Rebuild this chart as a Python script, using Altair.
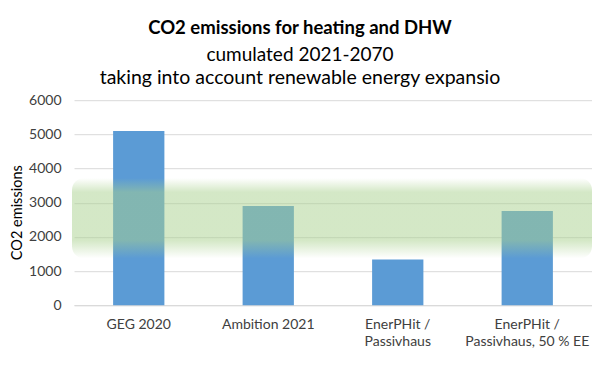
import altair as alt
import pandas as pd

# ---- data ----
categories = ["GEG 2020", "Ambition 2021", "EnerPHit /|Passivhaus", "EnerPHit /|Passivhaus, 50 % EE"]
values = [5100, 2900, 1340, 2760]
band_outer = [1370, 3720]
y_ticks = [0, 1000, 2000, 3000, 4000, 5000, 6000]
title_line = "CO2 emissions for heating and DHW"
sub_line1 = "cumulated 2021-2070"
sub_line2 = "taking into account renewable energy expansio"
y_title = "CO2 emissions"

FONT = "Lato"
W, H = 518, 205

df = pd.DataFrame({"cat": categories, "val": values})
band_df = pd.DataFrame({"lo": [band_outer[0]], "hi": [band_outer[1]]})

yscale = alt.Scale(domain=[0, 6000])
yaxis = alt.Axis(values=y_ticks, format="d", labelOverlap=False,
                 labelFont=FONT, labelFontSize=14,
                 labelColor="#404040", labelPadding=13, ticks=False,
                 domain=False, gridColor="#d9d9d9", titleFont=FONT,
                 titleFontSize=14.5, titleFontWeight="normal",
                 titleColor="#000000", titleX=-57, titleY=112,
                 titleAlign="center", titleBaseline="middle",
                 titleAngle=270)

bars = alt.Chart(df).mark_bar(color="#5b9bd5").encode(
    x=alt.X("cat:N", sort=categories, title=None,
            scale=alt.Scale(paddingInner=0.604, paddingOuter=0.302),
            axis=alt.Axis(labelExpr="split(datum.label, '|')", labelAngle=0,
                          labelFont=FONT, labelFontSize=14, labelColor="#404040",
                          labelLineHeight=17.5, labelPadding=12, ticks=False,
                          domainColor="#d9d9d9", grid=False)),
    y=alt.Y("val:Q", scale=yscale, title=y_title, axis=yaxis),
)

grad = alt.Gradient(
    gradient="linear", x1=0, y1=0, x2=0, y2=1,
    stops=[
        alt.GradientStop(offset=0.0, color="rgba(169,209,142,0)"),
        alt.GradientStop(offset=0.175, color="rgba(169,209,142,0.5)"),
        alt.GradientStop(offset=0.775, color="rgba(169,209,142,0.5)"),
        alt.GradientStop(offset=1.0, color="rgba(169,209,142,0)"),
    ],
)

band = alt.Chart(band_df).mark_rect(fill=grad, cornerRadius=12).encode(
    x=alt.value(-2), x2=alt.value(W),
    y=alt.Y("hi:Q", scale=yscale, title=y_title, axis=yaxis), y2="lo:Q",
)

def txt(s, x, y, size, weight="normal"):
    return alt.Chart(pd.DataFrame({"t": [s]})).mark_text(
        font=FONT, fontSize=size, fontWeight=weight, color="#000000",
        align="center", baseline="alphabetic").encode(
        text="t:N", x=alt.value(x), y=alt.value(y))

t1 = txt(title_line, 226, -66, 18.5, "bold")
t2 = txt(sub_line1, 226, -39.5, 19)
t3 = txt(sub_line2, 226, -16, 19.5)

chart = alt.layer(bars, band, t1, t2, t3).properties(
    width=W, height=H,
    autosize=alt.AutoSizeParams(type="none"),
    padding={"left": 66, "top": 92.2, "right": 0, "bottom": 61.8},
    background="white",
).configure_view(stroke=None)

chart.save("out.html", embed_options={"renderer": "svg", "actions": False})
